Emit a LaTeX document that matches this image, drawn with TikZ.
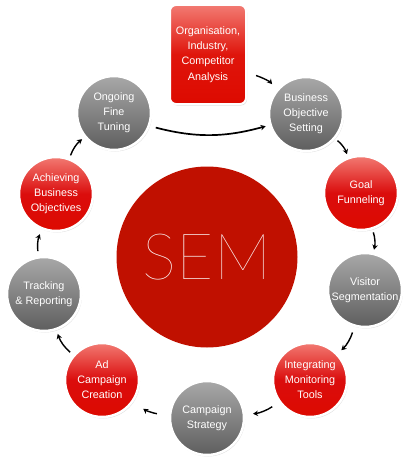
\documentclass[tikz,border=0pt]{standalone}
\usepackage{fontspec}
\setmainfont{Liberation Sans}
\setsansfont{Liberation Sans}
\newfontfamily\semfont{Lato Hairline}
\usetikzlibrary{arrows.meta,shadows}
\definecolor{redtop}{HTML}{F27A72}
\definecolor{redbot}{HTML}{DD0A00}
\definecolor{graytop}{HTML}{A8A8A8}
\definecolor{graybot}{HTML}{5E5E5E}
\definecolor{semred}{HTML}{C01000}
\tikzset{
  stepc/.style={circle, minimum size=74pt, inner sep=0pt, draw=white, line width=2.5pt,
    text=white, align=center, font=\fontsize{10.8}{15}\selectfont,
    drop shadow={opacity=0.25, shadow xshift=1pt, shadow yshift=-1.5pt}},
  redc/.style={stepc, top color=redtop, bottom color=redbot, middle color=red!85!black!95!white},
  grayc/.style={stepc, top color=graytop, bottom color=graybot},
  arr/.style={-{Stealth[length=5pt,width=5.5pt]}, line width=1.4pt, black},
}
\begin{document}
\begin{tikzpicture}[x=1pt,y=1pt]
\useasboundingbox (0,0) rectangle (416,-460);
% central circle
\node[circle, fill=semred, minimum size=181pt, inner sep=0pt, text=white,
      font=\semfont\fontsize{64}{64}\selectfont] (sem) at (207,-257) {SEM};
% top box
\node[rounded corners=6pt, draw=white, line width=2pt, minimum width=76pt, minimum height=99pt,
      top color=redtop, bottom color=redbot, middle color=redbot!90!redtop, text=white, align=center,
      font=\fontsize{10.8}{15.3}\selectfont,
      drop shadow={opacity=0.25, shadow xshift=1pt, shadow yshift=-1.5pt}] (org) at (208,-54.5)
      {Organisation,\\Industry,\\Competitor\\Analysis};
% cycle
\node[grayc] (bos) at (306,-114) {Business\\Objective\\Setting};
\node[redc]  (goal) at (361,-193) {Goal\\Funneling};
\node[grayc] (vis) at (365,-290) {Visitor\\Segmentation};
\node[redc]  (integ) at (310,-380) {Integrating\\Monitoring\\Tools};
\node[grayc] (camp) at (207,-418) {Campaign\\Strategy};
\node[redc]  (ad) at (102,-380) {Ad\\Campaign\\Creation};
\node[grayc] (track) at (44,-294) {Tracking\\\& Reporting};
\node[redc]  (ach) at (56,-194) {Achieving\\Business\\Objectives};
\node[grayc] (ongo) at (114,-113) {Ongoing\\Fine\\Tuning};
% arrows
\draw[arr, shorten >=7pt] ([xshift=9pt,yshift=-21pt]org.east) to[bend left=15] (bos.140);
\draw[arr, shorten <=3pt, shorten >=3pt] (bos) to[bend left=15] (goal);
\draw[arr, shorten <=3pt, shorten >=3pt] (goal) to[bend left=15] (vis);
\draw[arr, shorten <=6pt, shorten >=5pt] (vis) to[bend left=15] (integ);
\draw[arr, shorten <=8pt, shorten >=8pt] (integ) to[bend left=15] (camp);
\draw[arr, shorten <=12pt, shorten >=12pt] (camp) to[bend left=15] (ad);
\draw[arr, shorten <=4pt, shorten >=4pt] (ad) to[bend left=15] (track);
\draw[arr, shorten <=5pt, shorten >=5pt] (track) to[bend left=15] (ach);
\draw[arr, shorten <=3pt, shorten >=3pt] (ach) to[bend left=15] (ongo);
\draw[arr, line width=1.7pt, shorten <=6pt, shorten >=4pt] (ongo.-20) to[bend right=15] (bos.-163);
\end{tikzpicture}
\end{document}
